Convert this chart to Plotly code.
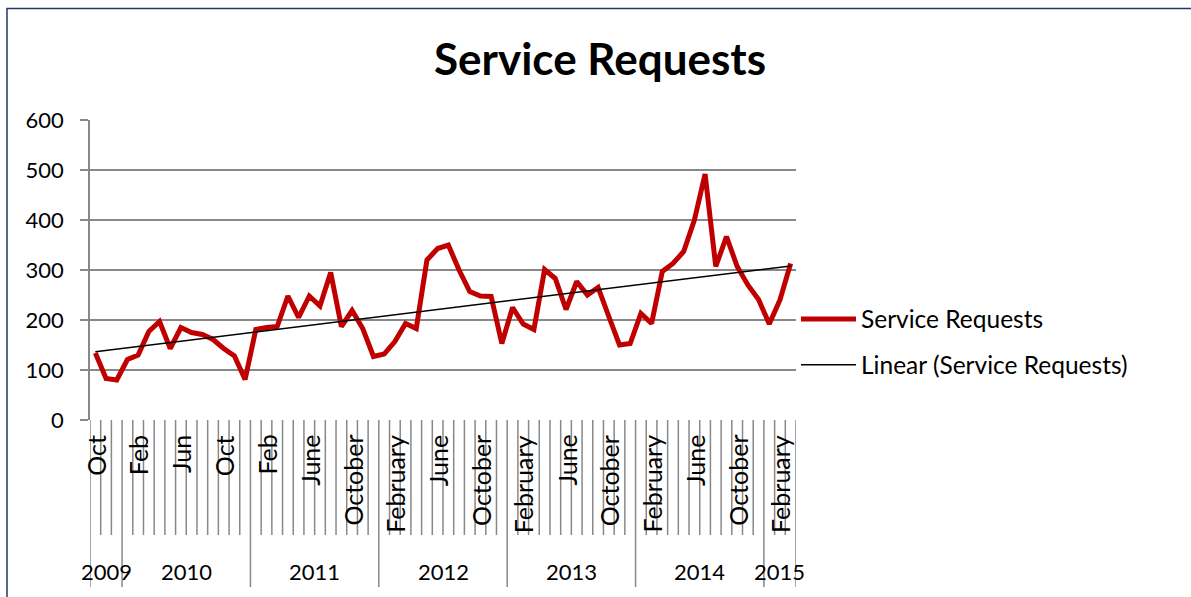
import numpy as np
import plotly.graph_objects as go

# Monthly service request counts, Oct 2009 - Mar 2015
years = (["2009"] * 3 + ["2010"] * 12 + ["2011"] * 12 + ["2012"] * 12
         + ["2013"] * 12 + ["2014"] * 12 + ["2015"] * 3)

full_months = ["January", "February", "March", "April", "May", "June", "July",
               "August", "September", "October", "November", "December"]
months = (["Oct", "Nov", "Dec"]
          + ["Jan", "Feb", "Mar", "Apr", "May", "Jun", "Jul", "Aug", "Sep", "Oct", "Nov", "Dec"]
          + ["Jan", "Feb", "Mar", "Apr", "May", "June", "July", "August", "September",
             "October", "November", "December"]
          + full_months * 3
          + ["January", "February", "March"])

requests = [
    134, 83, 80,
    121, 130, 177, 197, 143, 185, 175, 171, 161, 143, 128, 81,
    181, 185, 187, 248, 205, 248, 228, 295, 187, 219, 183, 127,
    132, 157, 193, 183, 320, 343, 350, 300, 257, 248, 247, 153,
    225, 192, 181, 301, 283, 221, 277, 250, 265, 207, 150, 153,
    213, 193, 297, 313, 337, 400, 492, 307, 367, 307, 270, 241,
    192, 240, 313,
]

label_step = 4
font_family = "Lato, 'Open Sans', sans-serif"
red = "#C00000"
grid = "#888888"

idx = np.arange(len(requests))
slope, intercept = np.polyfit(idx, requests, 1)
trend = slope * idx + intercept

fig = go.Figure()
fig.add_trace(go.Scatter(
    x=idx, y=requests, mode="lines", name="Service Requests",
    line=dict(color=red, width=5), legendgroup="a",
))
fig.add_trace(go.Scatter(
    x=idx, y=trend, mode="lines", name="Linear (Service Requests)",
    line=dict(color="black", width=1.5), legendgroup="b",
))

plot_h = 300  # plot area height in px

# category tick marks below the axis; year boundaries run longer
year_edges = [0]
for i in range(1, len(years)):
    if years[i] != years[i - 1]:
        year_edges.append(i)
year_edges.append(len(years))

shapes = []
for k in range(len(years) + 1):
    long_tick = k in year_edges
    y_end = -167 / plot_h if long_tick else -115 / plot_h
    shapes.append(dict(type="line", xref="x", yref="paper",
                       x0=k - 0.5, x1=k - 0.5, y0=0, y1=y_end,
                       line=dict(color=grid, width=1.5)))

# outer chart border
shapes.append(dict(type="rect", xref="paper", yref="paper",
                   x0=(7 - 90) / 706, x1=(1200 - 90) / 706,
                   y0=-0.7, y1=(420 - 8.5) / plot_h,
                   line=dict(color="#1F3864", width=1.5)))

annotations = []
for i in range(0, len(months), label_step):
    annotations.append(dict(x=i, y=0, xref="x", yref="paper", text=months[i],
                            textangle=-90, showarrow=False, xanchor="center",
                            yanchor="top", yshift=-13,
                            font=dict(family=font_family, size=25, color="black")))

for a, b in zip(year_edges[:-1], year_edges[1:]):
    annotations.append(dict(x=(a + b - 1) / 2, y=-151 / plot_h, xref="x", yref="paper",
                            text=years[a], showarrow=False, xanchor="center",
                            yanchor="middle",
                            font=dict(family=font_family, size=22, color="black")))

fig.update_layout(
    width=1191, height=597,
    margin=dict(l=90, r=395, t=120, b=177),
    paper_bgcolor="white", plot_bgcolor="white",
    title=dict(text="<b>Service Requests</b>", x=600 / 1191, xanchor="center",
               y=1 - 60 / 597, yanchor="middle",
               font=dict(family=font_family, size=44, color="black")),
    xaxis=dict(range=[-0.5, len(requests) - 0.5], showticklabels=False,
               showgrid=False, zeroline=False, showline=False, ticks=""),
    yaxis=dict(range=[0, 600], dtick=100, showgrid=True, gridcolor=grid,
               gridwidth=1.5, zeroline=False, showline=True, linecolor=grid,
               linewidth=1.5, ticks="outside", ticklen=8, tickcolor=grid,
               tickwidth=1.5, ticklabelstandoff=12,
               tickfont=dict(family=font_family, size=22, color="black")),
    legend=dict(x=1.0, xanchor="left", y=0.26, yanchor="middle",
                font=dict(family=font_family, size=24.5, color="black"),
                itemwidth=55, tracegroupgap=11, bgcolor="rgba(0,0,0,0)"),
    shapes=shapes,
    annotations=annotations,
    showlegend=True,
)

fig.write_html("out.html")
